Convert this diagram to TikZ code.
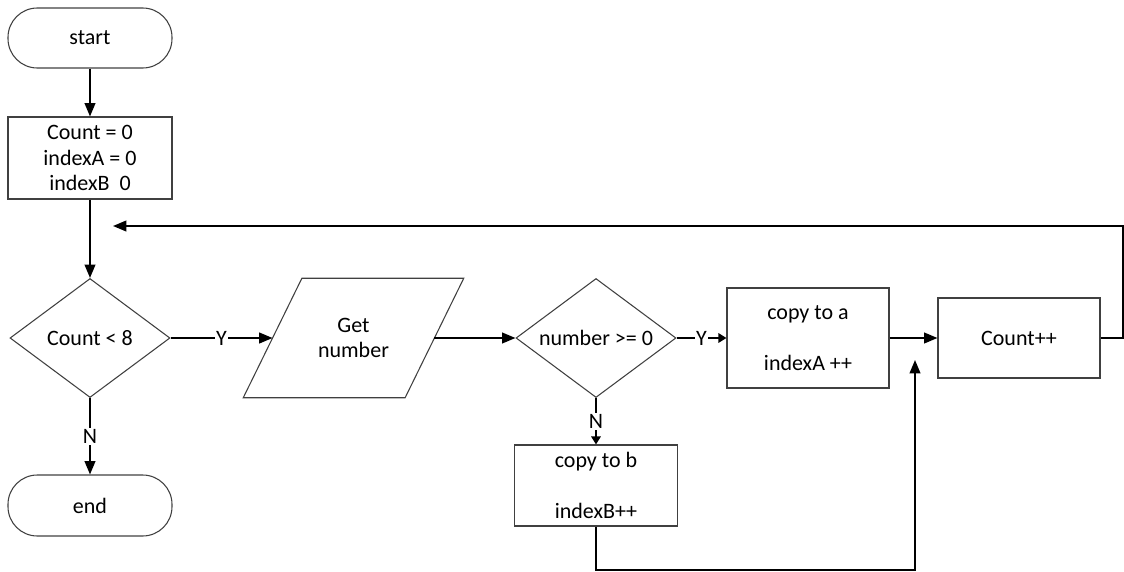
\documentclass[tikz,border=0pt]{standalone}
\usepackage{fontspec}
\setmainfont{Carlito}
\usetikzlibrary{shapes.geometric,arrows.meta,calc}

\begin{document}
\begin{tikzpicture}[x=0.75pt,y=-0.75pt,
  every node/.style={font=\fontsize{16.5}{19.2}\selectfont, align=center, inner sep=0pt},
  boxline/.style={draw=black!75, line width=0.8pt},
  terminal/.style={boxline, rectangle, rounded corners=22pt, minimum width=123pt, minimum height=45pt},
  procbox/.style={boxline, rectangle},
  decision/.style={boxline, diamond, aspect=1.35, minimum width=120pt, minimum height=89.25pt},
  flow/.style={line width=1.4pt, -{Triangle[length=10pt,width=8pt]}},
  flowsmall/.style={line width=1.4pt, -{Triangle[length=6pt,width=7pt]}},
  branch/.style={fill=white, inner sep=1pt}
]
\useasboundingbox (0,0) rectangle (1124,571);

% terminals
\node[terminal] (start) at (90,38) {start};
\node[terminal, minimum height=45.75pt] (end) at (90,505.5) {end};

% initialisation
\node[procbox, minimum width=123pt, minimum height=61.5pt] (init) at (90,158)
  {Count = 0\\indexA = 0\\indexB\ \ 0};

% loop test
\node[decision] (test) at (90,338) {Count < 8};

% input (parallelogram drawn around a plain node)
\node[minimum width=121pt, minimum height=89.25pt] (get) at (353.5,338) {Get\\number};
\draw[boxline]
  ([xshift=22pt]get.north west) -- ([xshift=22pt]get.north east) --
  ([xshift=-22pt]get.south east) -- ([xshift=-22pt]get.south west) -- cycle;

% sign test
\node[decision] (sign) at (596,338) {number >= 0};

% copy boxes
\node[procbox, minimum width=121.5pt, minimum height=75pt] (copya) at (808,338)
  {copy to a\\ \\indexA ++};
\node[procbox, minimum width=122pt, minimum height=60.75pt] (copyb) at (596,485.5)
  {copy to b\\ \\indexB++};

% counter
\node[procbox, minimum width=121.5pt, minimum height=60pt] (count) at (1019,338) {Count++};

% free ends and bends
\coordinate (loopin) at (113,226);
\coordinate (loopr) at (1123,226);
\coordinate (mergein) at (915,360);
\coordinate (br) at (915,570);

% connectors
\draw[flow] (start) -- (init);
\draw[flow] (init) -- (test);

\draw[flow] (test.east) -- (get.west) node[branch, pos=0.5] {Y};
\draw[flow] (test.south) -- (end.north) node[branch, pos=0.5] {N};

\draw[flow] (get.east) -- (sign.west);

\draw[flowsmall] (sign.east) -- (copya.west) node[branch, pos=0.5] {Y};
\draw[flowsmall] (sign.south) -- (copyb.north) node[branch, pos=0.5] {N};

\draw[flow] (copya.east) -- (count.west);

\draw[flow] (count.east) -| (loopr) -- (loopin);

\draw[flow] (copyb.south) |- (br) -- (mergein);
\end{tikzpicture}
\end{document}
